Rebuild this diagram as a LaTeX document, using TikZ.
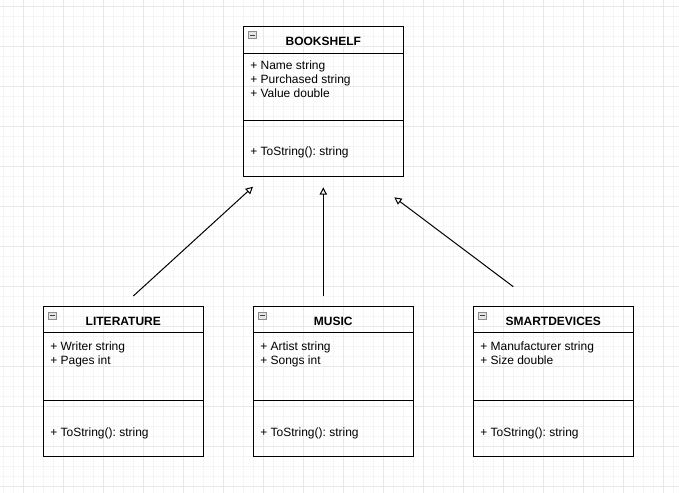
\documentclass[tikz,border=0pt]{standalone}
\usepackage{fontspec}
\setmainfont{Liberation Sans}
\frenchspacing
\usetikzlibrary{arrows.meta,positioning}
\tikzset{
	cls/.style={draw, line width=0.75pt, anchor=north west, minimum width=120pt, minimum height=112.5pt, inner sep=0pt, outer sep=0pt},
	ttl/.style={anchor=base, font=\fontsize{9}{10.5}\selectfont\bfseries, inner sep=0pt},
	mem/.style={anchor=base west, align=left, font=\fontsize{9}{10.5}\selectfont, inner sep=0pt},
	ico/.style={draw=gray!90, fill=gray!20, line width=0.5pt, minimum width=6pt, minimum height=5.2pt, inner sep=0pt,
		path picture={\draw[line width=0.7pt, black!75] ([xshift=1.3pt]path picture bounding box.west) -- ([xshift=-1.3pt]path picture bounding box.east);}},
	sep/.style={draw, line width=0.75pt},
	inh/.style={draw, line width=0.75pt, -{Triangle[open, length=5.5pt, width=5.5pt]}},
	minorgrid/.style={draw=black!4, line width=0.75pt},
	majorgrid/.style={draw=black!9, line width=0.75pt}
}
\begin{document}
\begin{tikzpicture}[x=0.75pt, y=-0.75pt]
	\useasboundingbox (0,0) rectangle (679,493);
	% background grid
	\fill[white] (0,0) rectangle (679,493);
	\foreach \gx in {3.33,13.33,...,679} \draw[minorgrid] (\gx,0) -- (\gx,493);
	\foreach \gy in {6,16,...,493} \draw[minorgrid] (0,\gy) -- (679,\gy);
	\foreach \gx in {23.33,63.33,...,679} \draw[majorgrid] (\gx,0) -- (\gx,493);
	\foreach \gy in {6,46,...,493} \draw[majorgrid] (0,\gy) -- (679,\gy);

	% classes
	\node[cls] (book) at (243.3,26) {};
	\node[cls] (lit) at (43.3,306.7) {};
	\node[cls, anchor=west] (music) [right=37.5pt of lit] {};
	\node[cls, anchor=west] (smart) [right=45pt of music] {};

	% bookshelf (base of a member list is its last line)
	\node[ico] (bookico) at ([shift={(9.4,9)}]book.north west) {};
	\node[ttl] (booktitle) at ([shift={(80,19.3)}]book.north west) {BOOKSHELF};
	\draw[sep] ([shift={(0,27)}]book.north west) -- ([shift={(0,27)}]book.north east);
	\node[mem] (bookattr) at ([shift={(6.7,71.3)}]book.north west) {+ Name string\\+ Purchased string\\+ Value double};
	\draw[sep] ([shift={(0,94)}]book.north west) -- ([shift={(0,94)}]book.north east);
	\node[mem] (bookop) at ([shift={(6.7,129.7)}]book.north west) {+ ToString(): string};

	% literature
	\node[ico] (litico) at ([shift={(9.4,9)}]lit.north west) {};
	\node[ttl] (littitle) at ([shift={(80,19)}]lit.north west) {LITERATURE};
	\draw[sep] ([shift={(0,26)}]lit.north west) -- ([shift={(0,26)}]lit.north east);
	\node[mem] (litattr) at ([shift={(6.7,57.3)}]lit.north west) {+ Writer string\\+ Pages int};
	\draw[sep] ([shift={(0,94)}]lit.north west) -- ([shift={(0,94)}]lit.north east);
	\node[mem] (litop) at ([shift={(6.7,129.5)}]lit.north west) {+ ToString(): string};

	% music
	\node[ico] (musicico) at ([shift={(9.4,9)}]music.north west) {};
	\node[ttl] (musictitle) at ([shift={(80,19)}]music.north west) {MUSIC};
	\draw[sep] ([shift={(0,26)}]music.north west) -- ([shift={(0,26)}]music.north east);
	\node[mem] (musicattr) at ([shift={(6.7,57.3)}]music.north west) {+ Artist string\\+ Songs int};
	\draw[sep] ([shift={(0,94)}]music.north west) -- ([shift={(0,94)}]music.north east);
	\node[mem] (musicop) at ([shift={(6.7,129.5)}]music.north west) {+ ToString(): string};

	% smartdevices
	\node[ico] (smartico) at ([shift={(9.4,9)}]smart.north west) {};
	\node[ttl] (smarttitle) at ([shift={(80,19)}]smart.north west) {SMARTDEVICES};
	\draw[sep] ([shift={(0,26)}]smart.north west) -- ([shift={(0,26)}]smart.north east);
	\node[mem] (smartattr) at ([shift={(6.7,57.3)}]smart.north west) {+ Manufacturer string\\+ Size double};
	\draw[sep] ([shift={(0,94)}]smart.north west) -- ([shift={(0,94)}]smart.north east);
	\node[mem] (smartop) at ([shift={(6.7,129.5)}]smart.north west) {+ ToString(): string};

	% inheritance arrows
	\coordinate (litfrom) at ([shift={(10,-10.7)}]lit.north);
	\coordinate (litto) at ([shift={(-70.3,10.7)}]book.south);
	\coordinate (musicfrom) at ([shift={(-10,-10.7)}]music.north);
	\coordinate (musicto) at ([shift={(0,11.3)}]book.south);
	\coordinate (smartfrom) at ([shift={(-40,-20)}]smart.north);
	\coordinate (smartto) at ([shift={(71,21.3)}]book.south);
	\path[inh] (litfrom) -- (litto);
	\path[inh] (musicfrom) -- (musicto);
	\path[inh] (smartfrom) -- (smartto);
\end{tikzpicture}
\end{document}
